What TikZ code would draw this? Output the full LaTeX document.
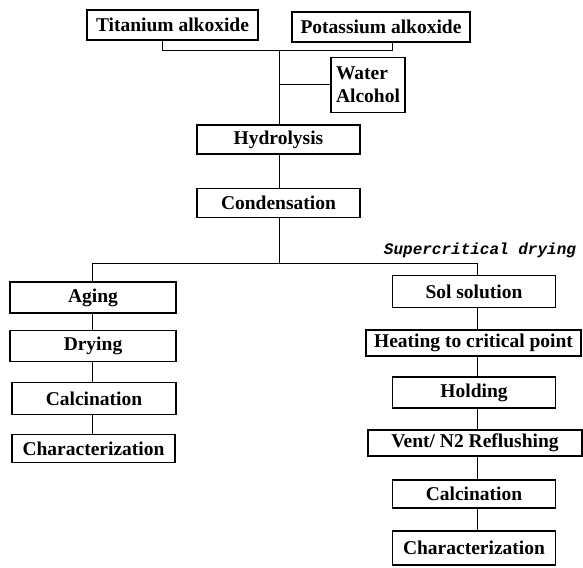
\documentclass[tikz,border=0pt]{standalone}
\usepackage{fontspec}
\setmainfont{Liberation Serif}
\newfontfamily\monoface{Liberation Mono}
\begin{document}
\begin{tikzpicture}[x=1pt,y=-1pt,
  box/.style={draw, line width=1.3pt, font=\fontsize{19.5}{23}\selectfont\bfseries, inner sep=0pt, anchor=center},
  wbox/.style={box, minimum width=163pt, minimum height=29pt},
  link/.style={line width=1pt}]
\useasboundingbox (0,0) rectangle (583,567);
% top
\node[box, minimum width=171pt, minimum height=30pt] (ti) at (172.5,25) {Titanium alkoxide};
\node[box, minimum width=178pt, minimum height=30pt] (ka) at (381,27) {Potassium alkoxide};
\node[box, minimum width=74pt, minimum height=55pt, align=left, inner xsep=4pt] (wa) at (368,85) {Water\\Alcohol};
\node[wbox] (hy) at (278.5,139.5) {Hydrolysis};
\node[wbox] (co) at (278.5,203) {Condensation};
% left column
\node[box, minimum width=166pt, minimum height=31pt] (ag) at (93,297.5) {Aging};
\node[box, minimum width=166pt, minimum height=31pt] (dr) at (93,346) {Drying};
\node[box, minimum width=164pt, minimum height=32pt] (cl) at (94,398.5) {Calcination};
\node[box, minimum width=163pt, minimum height=28pt] (chl) at (93.5,448.5) {Characterization};
% right column
\node[font=\monoface\bfseries\itshape\fontsize{16}{18}\selectfont, inner sep=0pt] (sc) at (480,250) {Supercritical drying};
\node[wbox, minimum height=32pt] (so) at (474,291.5) {Sol solution};
\node[box, minimum width=215pt, minimum height=26pt] (he) at (473.5,343) {Heating to critical point};
\node[wbox, minimum height=31pt] (ho) at (474,392.5) {Holding};
\node[box, minimum width=214pt, minimum height=26pt] (ve) at (475,443) {Vent/ N2 Reflushing};
\node[wbox, minimum height=28pt] (cr) at (474,494) {Calcination};
\node[wbox, minimum height=34pt] (chr) at (474,548) {Characterization};
% junction coordinates
\coordinate (jl) at (162,51);
\coordinate (jr) at (392,51);
\coordinate (jm) at (279,51);
\coordinate (sp) at (279,263);
\coordinate (sl) at (92,263);
\coordinate (sr) at (477,263);
% connectors
\draw[link] (ti.south -| jl) -- (jl) -- (jr) -- (ka.south -| jr);
\draw[link] (jm) -- (hy.north -| jm);
\draw[link] (wa.west -| jm) -- (wa.west);
\draw[link] (hy.south -| jm) -- (co.north -| jm);
\draw[link] (co.south -| sp) -- (sp);
\draw[link] (ag.north -| sl) -- (sl) -- (sr) -- (so.north -| sr);
\draw[link] (ag.south -| sl) -- (dr.north -| sl);
\draw[link] (dr.south -| sl) -- (cl.north -| sl);
\draw[link] (cl.south -| sl) -- (chl.north -| sl);
\draw[link] (so.south -| sr) -- (he.north -| sr);
\draw[link] (he.south -| sr) -- (ho.north -| sr);
\draw[link] (ho.south -| sr) -- (ve.north -| sr);
\draw[link] (ve.south -| sr) -- (cr.north -| sr);
\draw[link] (cr.south -| sr) -- (chr.north -| sr);
\end{tikzpicture}
\end{document}
